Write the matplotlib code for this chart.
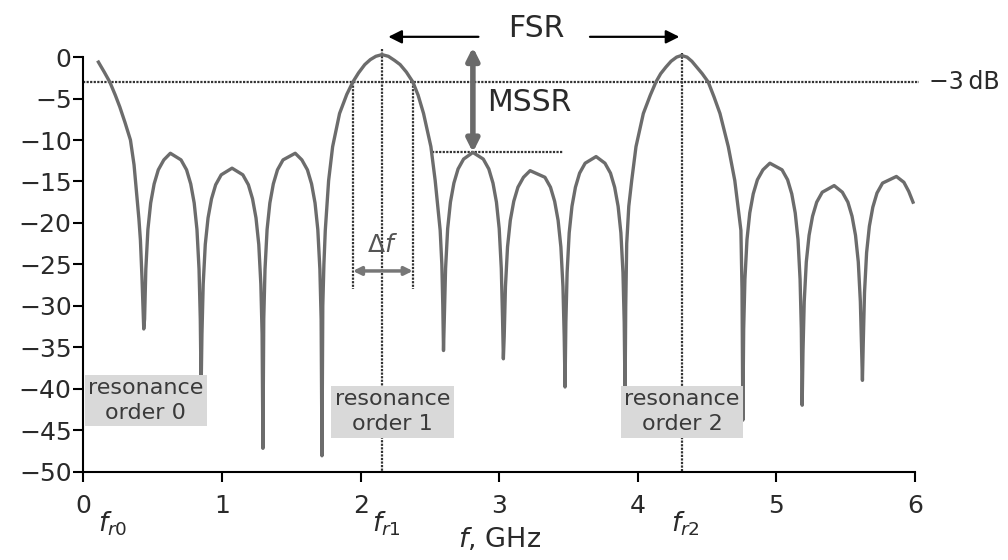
import matplotlib.pyplot as plt

plt.rcParams['font.family'] = ['DejaVu Sans']
plt.rcParams['mathtext.fontset'] = 'dejavusans'

# frequency response of the resonator (GHz, dB), one line per lobe
freq_ghz = [
    0.108, 0.15, 0.19, 0.23, 0.262, 0.30, 0.339, 0.365, 0.382, 0.40, 0.411, 0.422, 0.435,
    0.441, 0.450, 0.465, 0.485, 0.510, 0.540, 0.580, 0.627, 0.704, 0.744, 0.774, 0.799, 0.819, 0.834, 0.843, 0.849,
    0.855, 0.864, 0.879, 0.899, 0.924, 0.954, 0.994, 1.072, 1.150, 1.190, 1.220, 1.245, 1.265, 1.280, 1.289, 1.295,
    1.301, 1.310, 1.325, 1.345, 1.370, 1.400, 1.440, 1.528, 1.576, 1.616, 1.646, 1.671, 1.691, 1.706, 1.715, 1.721,
    1.727, 1.735, 1.745, 1.769, 1.798, 1.848, 1.90, 1.944, 1.985, 2.03, 2.07, 2.11, 2.154,
    2.20, 2.245, 2.285, 2.33, 2.377, 2.415, 2.454, 2.507, 2.538, 2.574, 2.586, 2.593, 2.598,
    2.604, 2.613, 2.628, 2.648, 2.673, 2.703, 2.743, 2.81, 2.885, 2.925, 2.955, 2.98, 3.0, 3.015, 3.024, 3.03,
    3.036, 3.045, 3.06, 3.08, 3.105, 3.135, 3.175, 3.223, 3.33, 3.37, 3.40, 3.425, 3.445, 3.46, 3.469, 3.475,
    3.481, 3.490, 3.505, 3.525, 3.55, 3.58, 3.62, 3.699, 3.763, 3.803, 3.833, 3.858, 3.878, 3.893, 3.902, 3.908,
    3.913, 3.92, 3.935, 3.956, 3.987, 4.04, 4.09, 4.131, 4.165, 4.203, 4.24, 4.28, 4.316,
    4.355, 4.39, 4.425, 4.465, 4.508, 4.55, 4.593, 4.653, 4.70, 4.744, 4.752, 4.758,
    4.764, 4.773, 4.788, 4.808, 4.833, 4.863, 4.903, 4.953, 5.041, 5.081, 5.111, 5.136, 5.156, 5.171, 5.180, 5.186,
    5.192, 5.201, 5.216, 5.236, 5.261, 5.291, 5.331, 5.417, 5.476, 5.516, 5.546, 5.571, 5.591, 5.606, 5.615, 5.621,
    5.627, 5.636, 5.651, 5.671, 5.696, 5.726, 5.766, 5.866, 5.92, 5.955, 5.986,
]
level_db = [
    -0.6, -1.8, -3.0, -4.6, -6.0, -7.9, -10.0, -13.0, -16.1, -19.5, -22.1, -26.5, -32.8,
    -31.6, -25.6, -20.8, -17.6, -15.3, -13.6, -12.4, -11.6, -12.4, -13.6, -15.3, -17.6, -20.8, -25.6, -31.6, -40.0,
    -33.4, -27.4, -22.6, -19.4, -17.1, -15.4, -14.2, -13.4, -14.2, -15.4, -17.1, -19.4, -22.6, -27.4, -33.4, -47.2,
    -31.6, -25.6, -20.8, -17.6, -15.3, -13.6, -12.4, -11.6, -12.4, -13.6, -15.3, -17.6, -20.8, -25.6, -31.6, -48.1,
    -30.0, -25.0, -20.9, -14.9, -10.8, -6.8, -4.5, -3.0, -1.9, -0.9, -0.3, 0.1, 0.3,
    0.1, -0.4, -0.9, -1.8, -3.0, -4.6, -6.8, -10.8, -14.9, -20.9, -25.0, -30.0, -35.4,
    -31.5, -25.5, -20.7, -17.5, -15.2, -13.5, -12.3, -11.5, -12.3, -13.5, -15.2, -17.5, -20.7, -25.5, -31.5, -36.4,
    -33.7, -27.7, -22.9, -19.7, -17.4, -15.7, -14.5, -13.7, -14.5, -15.7, -17.4, -19.7, -22.9, -27.7, -33.7, -39.8,
    -32.0, -26.0, -21.2, -18.0, -15.7, -14.0, -12.8, -12.0, -12.8, -14.0, -15.7, -18.0, -21.2, -26.0, -32.0, -41.0,
    -30.0, -22.5, -18.0, -14.9, -10.8, -6.8, -4.6, -3.0, -2.0, -1.2, -0.5, 0.0, 0.2,
    0.0, -0.5, -1.2, -2.0, -3.0, -4.8, -6.8, -10.8, -14.9, -20.9, -28.0, -43.8,
    -32.8, -26.8, -22.0, -18.8, -16.5, -14.8, -13.6, -12.8, -13.6, -14.8, -16.5, -18.8, -22.0, -26.8, -32.8, -42.0,
    -35.5, -29.5, -24.7, -21.5, -19.2, -17.5, -16.3, -15.5, -16.3, -17.5, -19.2, -21.5, -24.7, -29.5, -35.5, -39.0,
    -34.4, -28.4, -23.6, -20.4, -18.1, -16.4, -15.2, -14.4, -15.1, -16.2, -17.5,
]

# resonance frequencies and the -3 dB band edges around order 1
f_res = [0.18, 2.154, 4.316]
f_res_labels = [r'$f_{r0}$', r'$f_{r1}$', r'$f_{r2}$']
band_lo, band_hi = 1.944, 2.377
mssr_level = -11.5
mssr_freq = 2.81

x_ticks = [0, 1, 2, 3, 4, 5, 6]
y_ticks = [-50, -45, -40, -35, -30, -25, -20, -15, -10, -5, 0]
y_tick_labels = ['\u221250', '\u221245', '\u221240', '\u221235', '\u221230', '\u221225',
                 '\u221220', '\u221215', '\u221210', '\u22125', '0']

box_text = ['resonance\norder 0', 'resonance\norder 1', 'resonance\norder 2']
box_pos = [(0.45, -41.4), (2.23, -42.8), (4.32, -42.8)]

text_col = '#2a2a2a'
dot_style = dict(color='#333333', lw=1.6, linestyle=(0, (1.0, 0.6)))

fig = plt.figure(figsize=(10.08, 5.6), dpi=100)
ax = fig.add_axes([0.0828, 0.158, 0.8249, 0.814])

ax.plot(freq_ghz, level_db, color='#6c6c6c', lw=2.4, solid_joinstyle='round', zorder=3)

# -3 dB reference line and bandwidth markers
ax.plot([0, 6.03], [-3, -3], clip_on=False, zorder=2, **dot_style)
ax.text(6.1, -3, '\u22123\u2009dB', fontsize=17, color=text_col, va='center', ha='left')
ax.plot([band_lo, band_lo], [-3, -28], zorder=2, **dot_style)
ax.plot([band_hi, band_hi], [-3, -28], zorder=2, **dot_style)
ax.plot([f_res[1], f_res[1]], [1.0, -50], zorder=2, **dot_style)
ax.plot([f_res[2], f_res[2]], [0.5, -50], zorder=2, **dot_style)
ax.annotate('', xy=(band_lo, -25.8), xytext=(band_hi, -25.8),
            arrowprops=dict(arrowstyle='<|-|>', color='#777777', lw=2.5,
                            mutation_scale=12, shrinkA=0, shrinkB=0), zorder=4)
ax.text(2.16, -22.7, r'$\Delta f$', fontsize=18, color='#555555', ha='center', va='center')

# MSSR
ax.plot([2.516, 3.46], [mssr_level, mssr_level], zorder=2, **dot_style)
ax.annotate('', xy=(mssr_freq, 1.2), xytext=(mssr_freq, mssr_level),
            arrowprops=dict(arrowstyle='<|-|>', color='#6a6a6a', lw=4,
                            mutation_scale=18, shrinkA=0, shrinkB=0), zorder=4)
ax.text(3.22, -5.5, 'MSSR', fontsize=21.5, color=text_col, ha='center', va='center')

# FSR
ax.annotate('', xy=(2.20, 2.45), xytext=(2.85, 2.45),
            arrowprops=dict(arrowstyle='-|>', color='black', lw=1.6,
                            mutation_scale=20, shrinkA=0, shrinkB=0))
ax.annotate('', xy=(4.30, 2.45), xytext=(3.655, 2.45),
            arrowprops=dict(arrowstyle='-|>', color='black', lw=1.6,
                            mutation_scale=20, shrinkA=0, shrinkB=0))
ax.text(3.27, 3.4, 'FSR', fontsize=21.5, color=text_col, ha='center', va='center')

for txt, (bx, by) in zip(box_text, box_pos):
    ax.text(bx, by, txt, fontsize=16, color='#3a3a3a', ha='center', va='center',
            linespacing=1.3, zorder=6,
            bbox=dict(boxstyle='square,pad=0.15', fc='#d9d9d9', ec='none'))

for fr, lab in zip(f_res, f_res_labels):
    ax.text(fr + 0.03, -56.3, lab, fontsize=19, color=text_col, ha='center', va='center',
            clip_on=False)
ax.text(3.0, -58.2, r'$f$, GHz', fontsize=19.5, color=text_col, ha='center', va='center')

ax.set_xlim(0, 6)
ax.set_ylim(-50, 5)
ax.set_xticks(x_ticks)
ax.set_xticklabels([str(t) for t in x_ticks])
ax.set_yticks(y_ticks)
ax.set_yticklabels(y_tick_labels)
ax.spines['top'].set_visible(False)
ax.spines['right'].set_visible(False)
ax.spines['left'].set_bounds(-50, 0)
ax.spines['left'].set_linewidth(1.5)
ax.spines['bottom'].set_linewidth(1.5)
ax.tick_params(axis='both', direction='out', length=7, width=1.5, labelsize=18,
               labelcolor=text_col)
ax.tick_params(axis='x', pad=9)
ax.tick_params(axis='y', pad=1.5)

fig.savefig('out.png', dpi=100)
